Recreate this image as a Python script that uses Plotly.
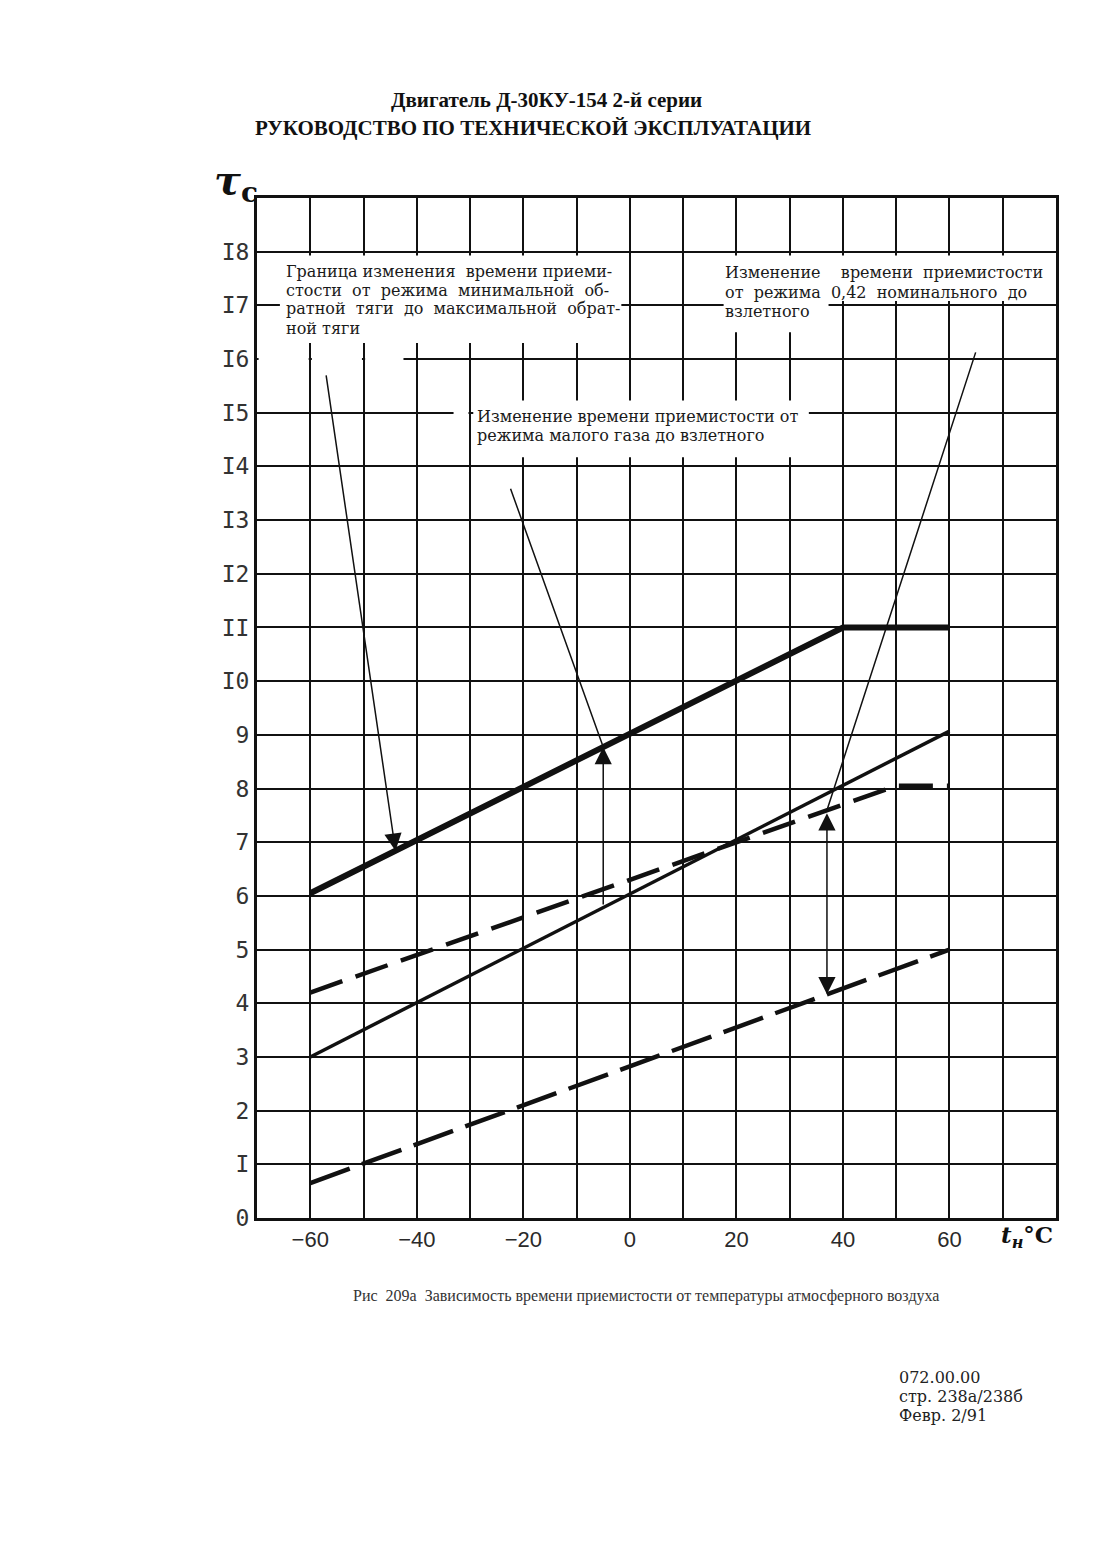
import numpy as np
import plotly.graph_objects as go

# ---------------- data ----------------
X_TICK_VALUES = [-60, -40, -20, 0, 20, 40, 60]
X_TICK_LABELS = ["−60", "−40", "−20", "0", "20", "40", "60"]
X_GRID_VALUES = [-70, -60, -50, -40, -30, -20, -10, 0, 10, 20, 30, 40, 50, 60, 70, 80]
Y_TICK_VALUES = list(range(0, 19))
Y_TICK_LABELS = ["0", "I", "2", "3", "4", "5", "6", "7", "8", "9",
                 "I0", "II", "I2", "I3", "I4", "I5", "I6", "I7", "I8"]

# thick solid line (upper boundary)
t_thick = [-60, 40, 60]
tau_thick = [6.05, 11.0, 11.0]
# thin solid line
t_thin = [-60, 60]
tau_thin = [3.0, 9.07]
# upper dashed line
t_dash_up = [-60, 50, 60]
tau_dash_up = [4.2, 8.05, 8.05]
# lower dashed line
t_dash_low = [-60, 60]
tau_dash_low = [0.65, 5.0]

# temperatures at which the pointer arrows sit
T_ARROW_BOUNDARY = -44.0
T_ARROW_IDLE = -5.0
T_ARROW_042 = 37.0
# pointer tails (label anchors)
TAIL_BOUNDARY = (-57.1, 15.75)
TAIL_IDLE = (-22.6, 13.64)
TAIL_042 = (65.1, 16.18)

NB = "\u00a0"
LABEL_BOUNDARY = ["Граница изменения" + NB + " времени приеми-",
                  "стости" + NB + " от" + NB + " режима" + NB + " минимальной" + NB + " об-",
                  "ратной" + NB + " тяги" + NB + " до" + NB + " максимальной" + NB + " обрат-",
                  "ной тяги"]
LABEL_042 = ["Изменение" + NB * 3 + " времени" + NB + " приемистости",
             "от" + NB + " режима" + NB + " 0,42" + NB + " номинального" + NB + " до",
             "взлетного"]
LABEL_IDLE = ["Изменение времени приемистости от",
              "режима малого газа до взлетного"]

TITLE_1 = "Двигатель Д-30КУ-154 2-й серии"
TITLE_2 = "РУКОВОДСТВО ПО ТЕХНИЧЕСКОЙ ЭКСПЛУАТАЦИИ"
CAPTION = "Рис  209а  Зависимость времени приемистости от температуры атмосферного воздуха"
FOOTER = ["072.00.00", "стр. 238а/238б", "Февр. 2/91"]

# ---------------- layout helpers ----------------
OFF = 8
WIN_W, WIN_H = 1103, 1564
PL, PR, PT, PB = 257, 1056, 198, 1218


def px(wx):
    return (wx - PL) / (PR - PL)


def py(wy):
    return (PB - wy) / (PB - PT)


W = WIN_W - 2 * OFF
H = WIN_H - 2 * OFF
MARGIN = dict(l=PL - OFF, r=W - (PR - OFF), t=PT - OFF, b=H - (PB - OFF), pad=0)

INK = "#111111"
SERIF = "DejaVu Serif"

fig = go.Figure()

fig.add_trace(go.Scatter(x=t_thick, y=tau_thick, mode="lines",
                         line=dict(color=INK, width=6), hoverinfo="skip"))
fig.add_trace(go.Scatter(x=t_thin, y=tau_thin, mode="lines",
                         line=dict(color=INK, width=3.5), hoverinfo="skip"))
fig.add_trace(go.Scatter(x=t_dash_up, y=tau_dash_up, mode="lines",
                         line=dict(color=INK, width=4.5, dash="34px,14px"), hoverinfo="skip"))
fig.add_trace(go.Scatter(x=t_dash_low, y=tau_dash_low, mode="lines",
                         line=dict(color=INK, width=4.5, dash="42px,13px"), hoverinfo="skip"))

# white gaps in the grid behind the labels
gaps = [
    (-65.7, -1.6, 16.3, 17.93),
    (-69.7, -60.3, 15.9, 16.1), (-59.7, -50.3, 15.9, 16.1), (-49.7, -42.5, 15.9, 16.1),
    (17.6, 79.7, 17.08, 17.93),
    (17.6, 37.3, 16.5, 17.1),
    (-29.4, 33.6, 14.17, 15.23),
    (-33.1, -30.3, 14.9, 15.1),
]
for x0, x1, y0, y1 in gaps:
    fig.add_shape(type="rect", xref="x", yref="y", x0=x0, x1=x1, y0=y0, y1=y1,
                  fillcolor="white", line=dict(width=0), layer="above")

ann = []


def arrow(x, y, ax, ay, head=2, side="end"):
    ann.append(dict(x=x, y=y, ax=ax, ay=ay, xref="x", yref="y", axref="x", ayref="y",
                    text=NB, font=dict(size=2, color="white"),
                    showarrow=True, arrowhead=head, startarrowhead=head,
                    arrowside=side, arrowsize=2.3, arrowwidth=1.5, arrowcolor=INK,
                    standoff=0, startstandoff=0))


y_b = float(np.interp(T_ARROW_BOUNDARY, t_thick, tau_thick))
arrow(T_ARROW_BOUNDARY, y_b, *TAIL_BOUNDARY)

y_top = float(np.interp(T_ARROW_IDLE, t_thick, tau_thick))
y_bot = float(np.interp(T_ARROW_IDLE, t_thin, tau_thin))
arrow(T_ARROW_IDLE, y_top, TAIL_IDLE[0], TAIL_IDLE[1], head=0)
arrow(T_ARROW_IDLE, y_top, T_ARROW_IDLE, y_bot)

y2_top = float(np.interp(T_ARROW_042, t_dash_up, tau_dash_up))
y2_bot = float(np.interp(T_ARROW_042, t_dash_low, tau_dash_low))
arrow(T_ARROW_042, y2_top, TAIL_042[0], TAIL_042[1], head=0)
arrow(T_ARROW_042, y2_bot, T_ARROW_042, y2_top, side="end+start")


def txt(s, wx, wy, size, family=SERIF, xanchor="left", color="#1a1a1a"):
    ann.append(dict(x=px(wx), y=py(wy), xref="paper", yref="paper", text=s,
                    showarrow=False, xanchor=xanchor, yanchor="middle",
                    font=dict(family=family, size=size, color=color)))


for i, s in enumerate(LABEL_BOUNDARY):
    txt(s, 284, 271 + 19 * i, 16)
for i, s in enumerate(LABEL_042):
    txt(s, 723, 273 + 19 * i, 16)
for i, s in enumerate(LABEL_IDLE):
    txt(s, 475, 416 + 20 * i, 16)

txt("<b>" + TITLE_1 + "</b>", 546, 100, 21, family="Liberation Serif", xanchor="center", color="#111")
txt("<b>" + TITLE_2 + "</b>", 533, 128, 21, family="Liberation Serif", xanchor="center", color="#111")
txt(CAPTION, 646, 1296, 16, family="Liberation Serif", xanchor="center", color="#333")
for i, s in enumerate(FOOTER):
    txt(s, 897, 1377 + 19 * i, 16, family=SERIF, color="#222")

txt("<b><i>τ</i></b><sub><b>c</b></sub>", 212, 182, 40, family=SERIF, color="#111")
txt("<b><i>t<sub>н</sub></i></b><b>°C</b>", 999, 1236, 23, family=SERIF, color="#111")

fig.update_layout(
    width=W, height=H, margin=MARGIN,
    paper_bgcolor="white", plot_bgcolor="white",
    showlegend=False, annotations=ann,
    xaxis=dict(range=[-70, 80], tickmode="array", tickvals=X_TICK_VALUES, ticktext=X_TICK_LABELS,
               showgrid=True, gridcolor=INK, gridwidth=1.7, zeroline=False,
               minor=dict(tickmode="array", tickvals=X_GRID_VALUES, showgrid=True,
                          gridcolor=INK, gridwidth=1.7, ticks=""),
               showline=True, linecolor=INK, linewidth=2.5, mirror=True, ticks="",
               ticklabelstandoff=0,
               tickfont=dict(family="Liberation Sans", size=22, color="#2a2a2a")),
    yaxis=dict(range=[0, 19], tickmode="array", tickvals=Y_TICK_VALUES, ticktext=Y_TICK_LABELS,
               showgrid=True, gridcolor=INK, gridwidth=1.7, zeroline=False,
               showline=True, linecolor=INK, linewidth=3, mirror=True, ticks="",
               ticklabelstandoff=0,
               tickfont=dict(family="DejaVu Sans Mono", size=23, color="#333")),
)

fig.write_html("out.html")
